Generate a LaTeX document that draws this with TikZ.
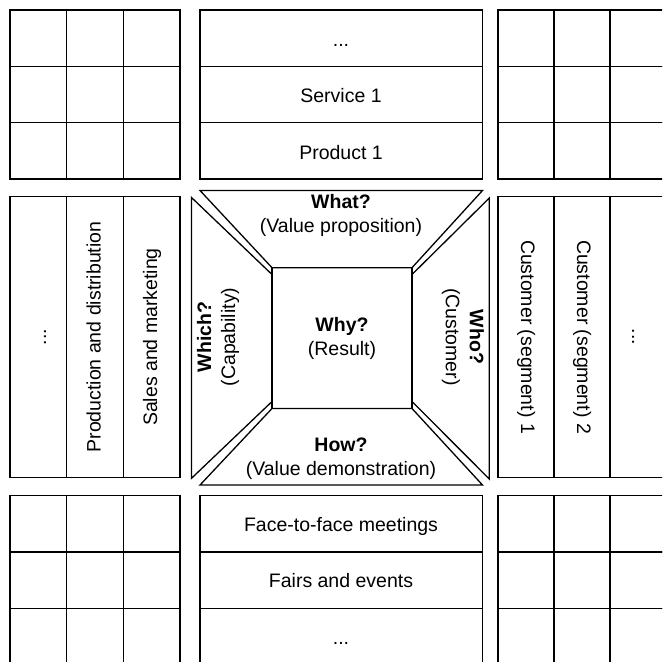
\documentclass[tikz,border=0pt]{standalone}
\usepackage{fontspec}
\setmainfont{Liberation Sans}
\begin{document}
\begin{tikzpicture}[x=1pt,y=-1pt,line width=1.3pt,line join=miter,
  lbl/.style={font=\fontsize{19.5}{24}\selectfont,inner sep=0pt,text height=14pt,text depth=4pt},
  two/.style={font=\fontsize{19.5}{24}\selectfont,inner sep=0pt,align=center},
  panel/.style={draw=black}]
\useasboundingbox (0,0) rectangle (662,662);
\clip (0,0) rectangle (662,662);
% corner grids
\foreach \i in {0,1,2}{
  \foreach \j in {0,1,2}{
    \draw (10+56.67*\i,10+56.33*\j) rectangle ++(56.67,56.33);
    \draw (498+56*\i,10+56.33*\j) rectangle ++(56,56.33);
    \draw (10+56.67*\i,495.5+56.5*\j) rectangle ++(56.67,56.5);
    \draw (498+56*\i,495.5+56.5*\j) rectangle ++(56,56.5);
  }
}
% middle rows and columns
\foreach \j in {0,1,2}{
  \draw (200,10+56.33*\j) rectangle ++(282.5,56.33);
  \draw (200,495.5+56.5*\j) rectangle ++(282.5,56.5);
  \draw (10+56.67*\j,196.5) rectangle ++(56.67,281.2);
  \draw (498+56*\j,196.5) rectangle ++(56,281.2);
}
\node[lbl] (t1) at (341,41) {...};
\node[lbl] (t2) at (341,97.5) {Service 1};
\node[lbl] (t3) at (341,154) {Product 1};
\node[lbl] (b1) at (341,526) {Face-to-face meetings};
\node[lbl] (b2) at (341,582.5) {Fairs and events};
\node[lbl] (b3) at (341,639) {...};
\node[lbl,rotate=90] (l1) at (41,337) {...};
\node[lbl,rotate=90] (l2) at (95.5,337) {Production and distribution};
\node[lbl,rotate=90] (l3) at (152,337) {Sales and marketing};
\node[lbl,rotate=-90] (r1) at (526,337) {Customer (segment) 1};
\node[lbl,rotate=-90] (r2) at (582,337) {Customer (segment) 2};
\node[lbl,rotate=-90] (r3) at (637,337) {...};
% center frame
\draw (272,267.7) rectangle (412,408.5);
\draw (200,190.5) -- (482.5,190.5) -- (412,267.7) -- (272,267.7) -- cycle;
\draw (200,485) -- (482.5,485) -- (412,408.5) -- (272,408.5) -- cycle;
\draw (191.5,197.5) -- (191.5,478.3) -- (272,401.5) -- (272,274.5) -- cycle;
\draw (489.3,198) -- (489.3,479) -- (412,401.5) -- (412,274.5) -- cycle;
\node[two] (why) at (342,338) {\textbf{Why?}\\(Result)};
\node[two] (what) at (341,215) {\textbf{What?}\\(Value proposition)};
\node[two] (how) at (341,459) {\textbf{How?}\\(Value demonstration)};
\node[two,rotate=90] (which) at (218,337) {\textbf{Which?}\\(Capability)};
\node[two,rotate=-90] (who) at (463,337) {\textbf{Who?}\\(Customer)};
\end{tikzpicture}
\end{document}
